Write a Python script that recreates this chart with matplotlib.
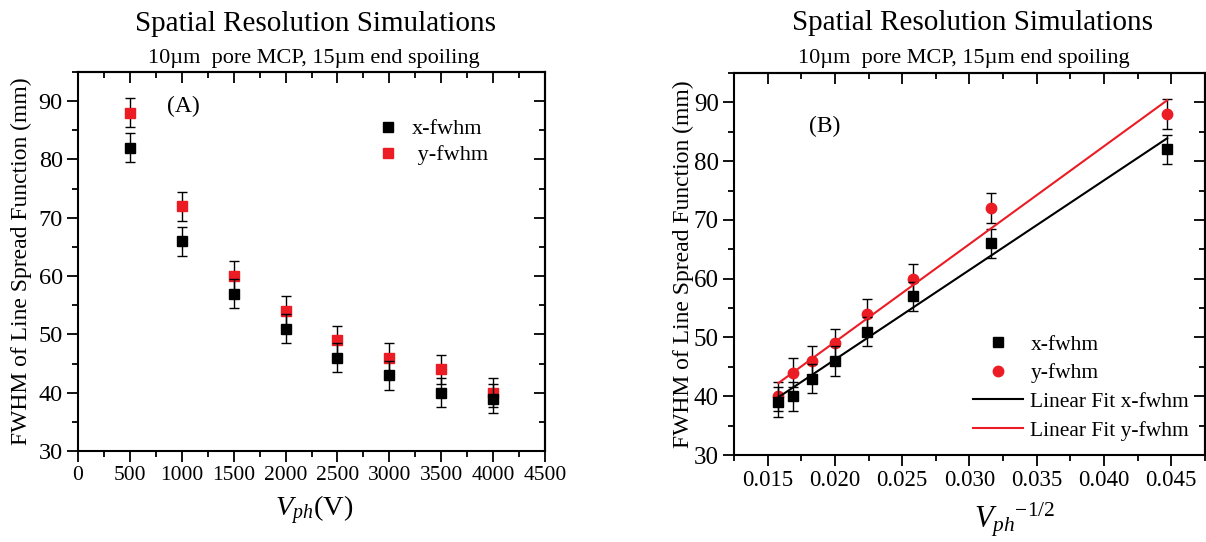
import numpy as np
import matplotlib
matplotlib.use("Agg")
import matplotlib.pyplot as plt
from matplotlib.ticker import MultipleLocator, FormatStrFormatter
from matplotlib.lines import Line2D

plt.rcParams['font.family'] = ['Liberation Serif', 'DejaVu Serif']
plt.rcParams['mathtext.fontset'] = 'custom'
plt.rcParams['mathtext.rm'] = 'Liberation Serif'
plt.rcParams['mathtext.it'] = 'Liberation Serif:italic'

# ---- data ----
vph = [500, 1000, 1500, 2000, 2500, 3000, 3500, 4000]
vph_inv_sqrt = [0.0447, 0.0316, 0.0258, 0.0224, 0.0200, 0.0183, 0.0169, 0.0158]
x_fwhm = [82, 66, 57, 51, 46, 43, 40, 39]
y_fwhm = [88, 72, 60, 54, 49, 46, 44, 40]
x_err = [2.5, 2.5, 2.5, 2.5, 2.5, 2.5, 2.5, 2.5]
y_err = [2.5, 2.5, 2.5, 2.5, 2.5, 2.5, 2.5, 2.5]

RED = '#ec1c24'

fig = plt.figure(figsize=(12.06, 5.42), dpi=100)

def style_axes(ax, xmaj, xmin, ymaj, ymin, xfs, yfs):
    ax.xaxis.set_major_locator(MultipleLocator(xmaj))
    ax.xaxis.set_minor_locator(MultipleLocator(xmin))
    ax.yaxis.set_major_locator(MultipleLocator(ymaj))
    ax.yaxis.set_minor_locator(MultipleLocator(ymin))
    ax.tick_params(which='major', direction='out', length=8, width=1.3, pad=3)
    ax.tick_params(axis='x', labelsize=xfs)
    ax.tick_params(axis='y', labelsize=yfs)
    ax.tick_params(which='minor', direction='out', length=4.5, width=1.3)
    for s in ax.spines.values():
        s.set_linewidth(1.5)
    sx = ax.secondary_xaxis('top')
    sx.xaxis.set_major_locator(MultipleLocator(xmaj))
    sx.xaxis.set_minor_locator(MultipleLocator(xmin))
    sx.tick_params(which='major', direction='in', length=8, width=1.3, labeltop=False)
    sx.tick_params(which='minor', direction='in', length=4.5, width=1.3)
    sx.spines['top'].set_linewidth(1.5)
    sy = ax.secondary_yaxis('right')
    sy.yaxis.set_major_locator(MultipleLocator(ymaj))
    sy.yaxis.set_minor_locator(MultipleLocator(ymin))
    sy.tick_params(which='major', direction='in', length=8, width=1.3, labelright=False)
    sy.tick_params(which='minor', direction='in', length=4.5, width=1.3)
    sy.spines['right'].set_linewidth(1.5)

eb_kw = dict(ecolor='black', elinewidth=1, capsize=3.5, capthick=1)

# ---- panel A ----
axA = fig.add_axes([0.0647, 0.1679, 0.3872, 0.6993])
axA.errorbar(vph, x_fwhm, yerr=x_err, fmt='s', color='black', ms=6.5, zorder=3, **eb_kw)
axA.errorbar(vph, y_fwhm, yerr=y_err, fmt='s', color=RED, ms=6.5, zorder=2, **eb_kw)
axA.set_xlim(0, 4500)
axA.set_ylim(30, 95)
style_axes(axA, 500, 250, 10, 5, 15.5, 17.5)
axA.set_ylabel('FWHM of Line Spread Function (mm)', fontsize=17)
axA.yaxis.set_label_coords(-0.122, 0.5)
axA.yaxis.label.set_va('center')
axA.set_xlabel(r'$V_{ph}$(V)', fontsize=20.5)
axA.xaxis.set_label_coords(0.505, -0.155)
axA.xaxis.label.set_va('center')
axA.text(0.19, 0.91, '(A)', transform=axA.transAxes, fontsize=17, ha='left', va='center')
hA = [Line2D([], [], ls='none', marker='s', color='black', ms=6.5),
      Line2D([], [], ls='none', marker='s', color=RED, ms=6.5)]
axA.legend(hA, ['x-fwhm', ' y-fwhm'], loc='upper left', bbox_to_anchor=(0.62, 0.9),
           frameon=False, fontsize=16, handlelength=1.0, handletextpad=0.6,
           labelspacing=0.25, borderaxespad=0)

# ---- panel B ----
axB = fig.add_axes([0.6086, 0.1605, 0.3905, 0.7048])
axB.errorbar(vph_inv_sqrt, x_fwhm, yerr=x_err, fmt='s', color='black', ms=7, zorder=3, **eb_kw)
axB.errorbar(vph_inv_sqrt, y_fwhm, yerr=y_err, fmt='o', color=RED, ms=7.5, zorder=2, **eb_kw)
xs = np.array([min(vph_inv_sqrt), max(vph_inv_sqrt)])
px = np.polyfit(vph_inv_sqrt, x_fwhm, 1)
py = np.polyfit(vph_inv_sqrt, y_fwhm, 1)
axB.plot(xs, np.polyval(px, xs), color='black', lw=1.5, zorder=4)
axB.plot(xs, np.polyval(py, xs), color=RED, lw=1.5, zorder=4)
axB.set_xlim(0.0125, 0.0475)
axB.set_ylim(30, 95)
style_axes(axB, 0.005, 0.0025, 10, 5, 16.5, 18)
axB.xaxis.set_major_formatter(FormatStrFormatter('%.3f'))
axB.set_ylabel('FWHM of Line Spread Function (mm)', fontsize=17)
axB.yaxis.set_label_coords(-0.108, 0.5)
axB.yaxis.label.set_va('center')
axB.set_xlabel(r'$V_{ph}$$^{\mathrm{-1/2}}$', fontsize=22)
axB.xaxis.set_label_coords(0.597, -0.168)
axB.xaxis.label.set_va('center')
axB.text(0.16, 0.86, '(B)', transform=axB.transAxes, fontsize=17, ha='left', va='center')
hB = [Line2D([], [], ls='none', marker='s', color='black', ms=7),
      Line2D([], [], ls='none', marker='o', color=RED, ms=7.5),
      Line2D([], [], color='black', lw=1.5),
      Line2D([], [], color=RED, lw=1.5)]
axB.legend(hB, ['x-fwhm', 'y-fwhm', 'Linear Fit x-fwhm', 'Linear Fit y-fwhm'],
           loc='upper left', bbox_to_anchor=(0.49, 0.338), frameon=False, fontsize=15.5,
           handlelength=2.3, handletextpad=0.35, labelspacing=0.4, borderaxespad=0)

# ---- titles ----
fig.text(0.262, 0.955, 'Spatial Resolution Simulations', ha='center', va='center', fontsize=21)
fig.text(0.260, 0.892, '10\u00b5m  pore MCP, 15\u00b5m end spoiling', ha='center', va='center', fontsize=16)
fig.text(0.806, 0.958, 'Spatial Resolution Simulations', ha='center', va='center', fontsize=21)
fig.text(0.799, 0.892, '10\u00b5m  pore MCP, 15\u00b5m end spoiling', ha='center', va='center', fontsize=16)

fig.savefig('out.png', dpi=100)
